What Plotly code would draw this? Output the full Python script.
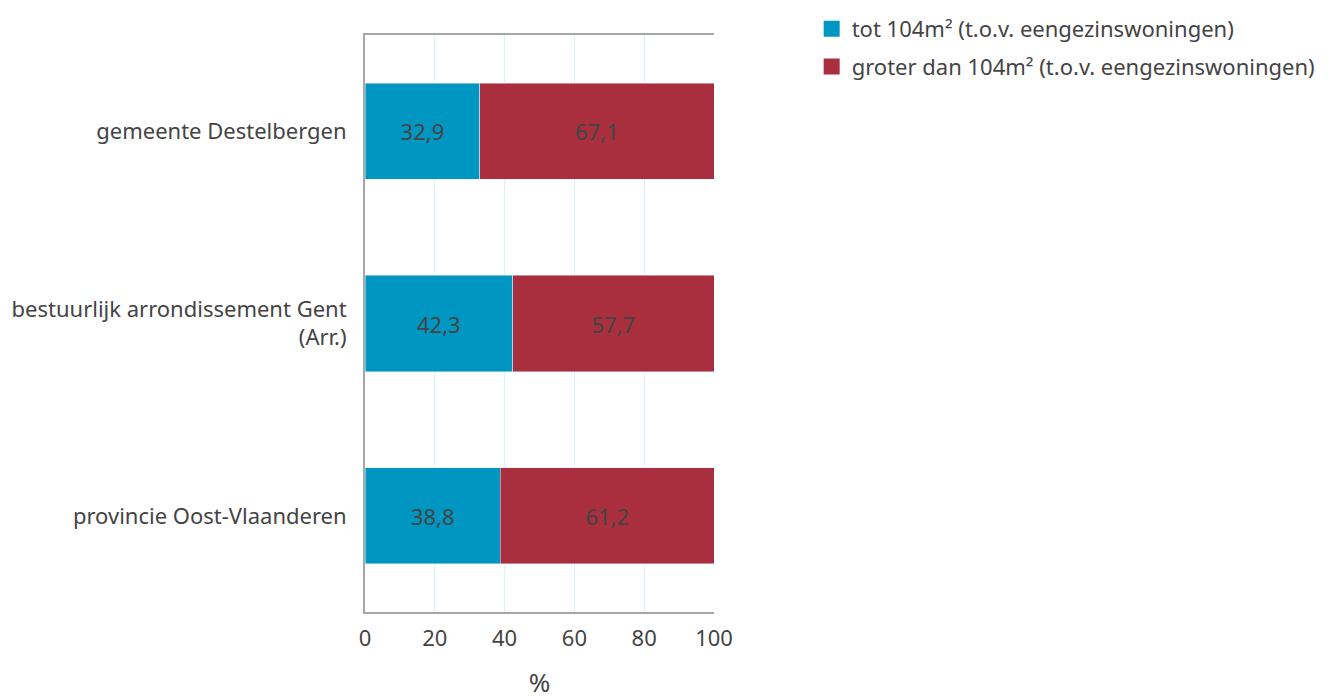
import plotly.graph_objects as go

regio = ["gemeente Destelbergen", "bestuurlijk arrondissement Gent<br>(Arr.)", "provincie Oost-Vlaanderen"]
tot_104 = [32.9, 42.3, 38.8]
groter_104 = [67.1, 57.7, 61.2]

naam_tot = "tot 104m² (t.o.v. eengezinswoningen)"
naam_groter = "groter dan 104m² (t.o.v. eengezinswoningen)"
kleur_tot = "#0096C2"
kleur_groter = "#A92F3E"

def lbl(v):
    return [f"{x:.1f}".replace(".", ",") for x in v]

fig = go.Figure()
fig.add_trace(go.Bar(y=regio, x=tot_104, name=naam_tot, orientation="h", showlegend=False,
                     marker_color=kleur_tot, text=lbl(tot_104), textposition="inside",
                     insidetextanchor="middle", textfont=dict(color="#444444", size=22)))
fig.add_trace(go.Bar(y=regio, x=groter_104, name=naam_groter, orientation="h", showlegend=False,
                     marker_color=kleur_groter, text=lbl(groter_104), textposition="inside",
                     insidetextanchor="middle", textfont=dict(color="#444444", size=22)))

# legenda met grotere vierkantjes
for naam, kleur in [(naam_tot, kleur_tot), (naam_groter, kleur_groter)]:
    fig.add_trace(go.Scatter(x=[None], y=[None], mode="markers", name=naam, legendgroup=naam,
                             marker=dict(symbol="square", size=16, color=kleur)))

# body heeft 8px marge in de html-pagina
fig.update_layout(
    barmode="stack", bargap=0.5,
    width=1335, height=697,
    margin=dict(l=357, r=629, t=27, b=93),
    paper_bgcolor="white", plot_bgcolor="white",
    font=dict(family="Noto Sans, Open Sans, sans-serif", size=22, color="#444444"),
    uniformtext=dict(mode="show", minsize=22),
    legend=dict(xref="container", yref="container", x=0.602, y=1.024,
                xanchor="left", yanchor="top",
                font=dict(size=22), itemsizing="trace", traceorder="grouped",
                itemwidth=30, tracegroupgap=6),
)
fig.update_xaxes(range=[0, 100], dtick=20, showgrid=True, gridcolor="#DDF1FA",
                 showline=True, linecolor="#A6A6A6", linewidth=2, mirror=True,
                 zeroline=False, ticks="", ticklabelstandoff=6,
                 title=dict(text="%", standoff=22), automargin=False)
fig.update_yaxes(autorange="reversed", showline=True, linecolor="#A6A6A6", linewidth=2,
                 ticks="", ticklabelstandoff=12, automargin=False)

fig.write_html("out.html")
